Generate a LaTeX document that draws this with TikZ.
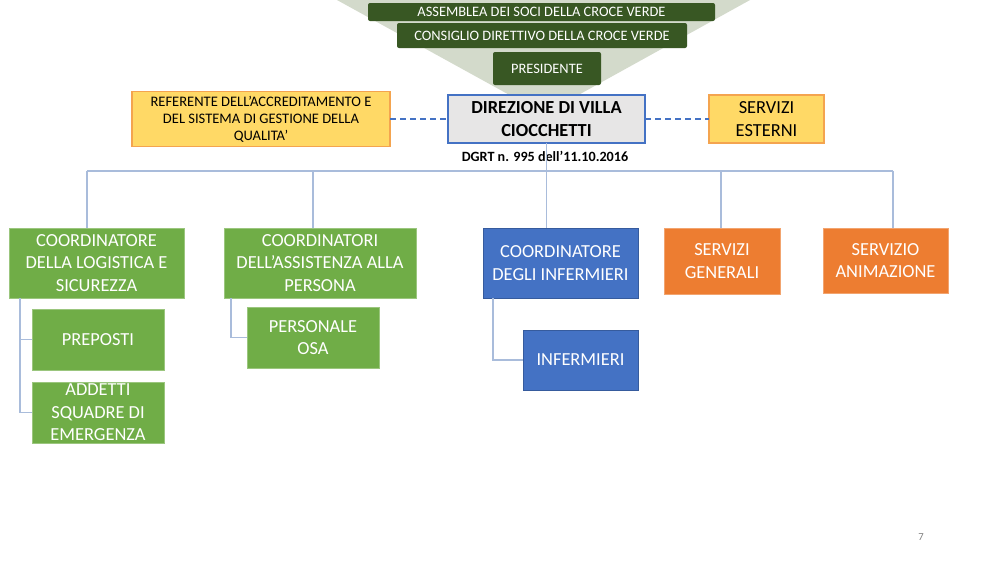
\documentclass[tikz,border=0pt]{standalone}
\usepackage{fontspec}
\setmainfont{Carlito}
\definecolor{dkgreen}{HTML}{385723}
\definecolor{tri}{HTML}{D3DACB}
\definecolor{gbox}{HTML}{70AD47}
\definecolor{bbox}{HTML}{4472C4}
\definecolor{obox}{HTML}{ED7D31}
\definecolor{ybox}{HTML}{FFD966}
\definecolor{ybord}{HTML}{F4A44F}
\definecolor{gray1}{HTML}{E7E6E6}
\definecolor{conn}{HTML}{A9BCDB}
\begin{document}
\begin{tikzpicture}[x=0.75pt,y=-0.75pt,
  every node/.style={inner sep=0pt, outer sep=0pt, align=center},
  topbox/.style={fill=dkgreen, rounded corners=1.5pt, text=white, font=\fontsize{10.8}{12}\selectfont},
  colbox/.style={text=white, font=\fontsize{13.8}{16.8}\selectfont},
  gbx/.style={colbox, fill=gbox, draw=gbox!70!white, line width=0.4pt},
  bbx/.style={colbox, fill=bbox, draw=bbox!80!black, line width=0.4pt},
  obx/.style={colbox, fill=obox, draw=obox!70!white, line width=0.4pt},
  ybx/.style={fill=ybox, draw=ybord, line width=0.8pt},
  link/.style={draw=conn, line width=0.9pt},
  dlink/.style={draw=bbox, line width=1pt, dashed, dash pattern=on 4.5pt off 3pt}]
\useasboundingbox (0,0) rectangle (1000,562);
\fill[white] (0,0) rectangle (1000,562);
% background triangle
\fill[tri] (337,0) -- (750,0) -- (544,114) -- cycle;
% top boxes
\node[topbox, minimum width=347*0.75pt, minimum height=18*0.75pt] (ass) at (541.5,12) {ASSEMBLEA DEI SOCI DELLA CROCE VERDE};
\node[topbox, minimum width=290*0.75pt, minimum height=25*0.75pt] (cons) at (542,35.5) {CONSIGLIO DIRETTIVO DELLA CROCE VERDE};
\node[topbox, minimum width=108*0.75pt, minimum height=33*0.75pt] (pres) at (547,68.5) {PRESIDENTE};
% direzione
\node[fill=gray1, draw=bbox, line width=0.8pt, minimum width=197*0.75pt, minimum height=48*0.75pt, font=\bfseries\fontsize{13.8}{16.8}\selectfont] (dir) at (546.5,119) {DIREZIONE DI VILLA\\CIOCCHETTI};
\node[font=\bfseries\fontsize{10.6}{12}\selectfont] (dgrt) at (545,156) {DGRT n. 995 dell’11.10.2016};
\node[ybx, minimum width=258*0.75pt, minimum height=55*0.75pt, font=\fontsize{10.9}{12.8}\selectfont] (ref) at (261,119) {REFERENTE DELL’ACCREDITAMENTO E\\DEL SISTEMA DI GESTIONE DELLA\\QUALITA’};
\node[ybx, minimum width=115*0.75pt, minimum height=48*0.75pt, font=\fontsize{13.8}{16.8}\selectfont] (est) at (766.5,119) {SERVIZI\\ESTERNI};
\draw[dlink] (ref.east) -- (dir.west);
\draw[dlink] (dir.east) -- (est.west);
% second level
\node[gbx, minimum width=175*0.75pt, minimum height=70*0.75pt] (log) at (96.5,263) {COORDINATORE\\DELLA LOGISTICA E\\SICUREZZA};
\node[gbx, minimum width=192*0.75pt, minimum height=70*0.75pt] (ass2) at (320,263) {COORDINATORI\\DELL’ASSISTENZA ALLA\\PERSONA};
\node[bbx, minimum width=155*0.75pt, minimum height=70*0.75pt] (cinf) at (560.5,263) {COORDINATORE\\DEGLI INFERMIERI};
\node[obx, minimum width=116*0.75pt, minimum height=66*0.75pt] (sgen) at (722,261) {SERVIZI\\GENERALI};
\node[obx, minimum width=125*0.75pt, minimum height=65*0.75pt] (anim) at (885.5,260.5) {SERVIZIO\\ANIMAZIONE};
% third level
\node[gbx, minimum width=132*0.75pt, minimum height=61*0.75pt] (prep) at (98,339.5) {PREPOSTI};
\node[gbx, minimum width=132*0.75pt, minimum height=61*0.75pt] (add) at (98,412.5) {ADDETTI\\SQUADRE DI\\EMERGENZA};
\node[gbx, minimum width=132*0.75pt, minimum height=61*0.75pt] (osa) at (313,337.5) {PERSONALE\\OSA};
\node[bbx, minimum width=115*0.75pt, minimum height=60*0.75pt] (inf) at (580.5,360) {INFERMIERI};
% bus
\coordinate (b1) at (87,171);
\coordinate (b2) at (313,171);
\coordinate (b3) at (546.5,171);
\coordinate (b4) at (721,171);
\coordinate (b5) at (893,171);
\draw[link] (b1) -- (b5);
\draw[link] (dir.south) -- (dir.south |- cinf.north);
\draw[link] (b1) -- (b1 |- log.north);
\draw[link] (b2) -- (b2 |- ass2.north);
\draw[link] (b4) -- (b4 |- sgen.north);
\draw[link] (b5) -- (b5 |- anim.north);
% sub connectors
\coordinate (l1) at (20,298);
\coordinate (l2) at (231,298);
\coordinate (l3) at (493,298);
\draw[link] (l1) |- (prep.west);
\draw[link] (l1) |- (add.west);
\draw[link] (l2) |- (osa.west);
\draw[link] (l3) |- (inf.west);
% page number
\node[text=gray, font=\fontsize{8}{9}\selectfont] (pg) at (921,537) {7};
\end{tikzpicture}
\end{document}
